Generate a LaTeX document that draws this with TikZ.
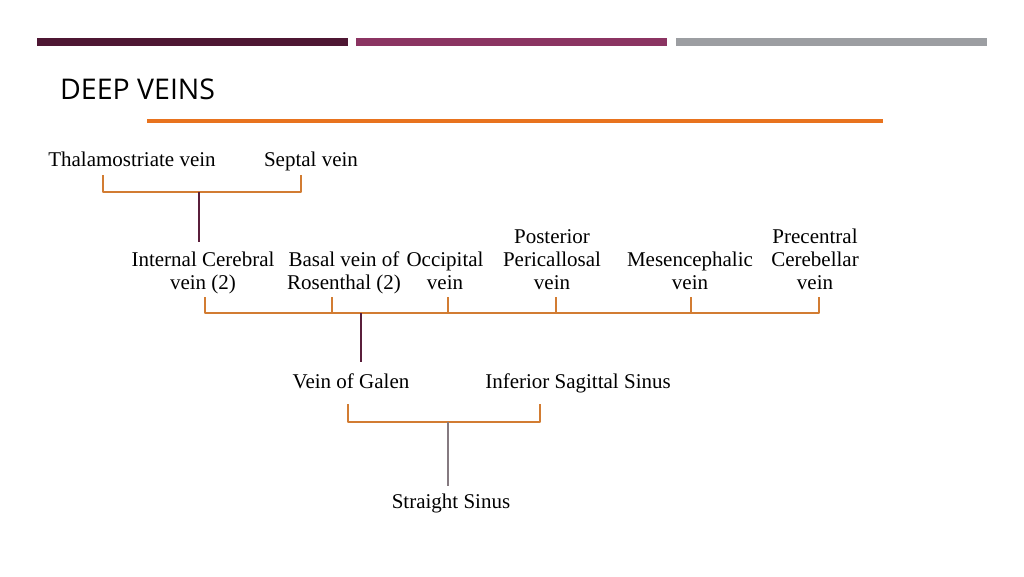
\documentclass[tikz,border=0pt]{standalone}
\usepackage{fontspec}
\setmainfont{Liberation Serif}
\newfontfamily\titlefont{Open Sans}
\usepackage{xcolor}
\usetikzlibrary{arrows.meta}
\definecolor{barone}{HTML}{4E1733}
\definecolor{bartwo}{HTML}{8B3462}
\definecolor{barthree}{HTML}{9C9EA2}
\definecolor{ruleorange}{HTML}{E8731E}
\definecolor{brackorange}{HTML}{D27C32}
\definecolor{stemplum}{HTML}{5A1E3B}
\definecolor{stemgray}{HTML}{857A80}
\tikzset{
  every picture/.style={line join=round, line cap=butt, >=Stealth},
  vein/.style={font=\fontsize{21}{23}\selectfont, align=center, inner sep=0pt, anchor=base},
  bracket/.style={draw=brackorange, line width=1.2pt},
  stem/.style={draw=stemplum, line width=1.3pt},
}

\begin{document}
\begin{tikzpicture}[x=1pt,y=-1pt]
\useasboundingbox[fill=white](0,0) rectangle (1024,576);
% header bars
\fill[barone](37,38) rectangle (348,46);
\fill[bartwo](356,38) rectangle (667,46);
\fill[barthree](676,38) rectangle (987,46);
\node[anchor=base west,inner sep=0pt,font=\titlefont\fontsize{28.5}{30}\selectfont](title) at (60,99){DEEP VEINS};
\fill[ruleorange](147,119) rectangle (883,123);

% top row
\node[vein](thal) at (132,166){Thalamostriate vein};
\node[vein](septal) at (311,166){Septal vein};
% middle row (base = last line)
\node[vein](icv) at (203,289){Internal Cerebral\\vein (2)};
\node[vein](basal) at (344,289){Basal vein of\\Rosenthal (2)};
\node[vein](occ) at (445,289){Occipital\\vein};
\node[vein](post) at (552,289){Posterior\\Pericallosal\\vein};
\node[vein](mes) at (690,289){Mesencephalic\\vein};
\node[vein](prec) at (815,289){Precentral\\Cerebellar\\vein};
% bottom rows
\node[vein](galen) at (351,388){Vein of Galen};
\node[vein](iss) at (578,388){Inferior Sagittal Sinus};
\node[vein](straight) at (451,508){Straight Sinus};

% bracket one
\coordinate(thaltick) at (103,175);
\coordinate(septaltick) at (301,175);
\coordinate(joinA) at (199,192);
\draw[bracket](thaltick)|-(joinA)-|(septaltick);
\draw[stem,shorten >=9pt](joinA)--(joinA|-icv.north);

% bracket two
\coordinate(joinB) at (361,313);
\draw[bracket](205,297)|-(joinB)-|(819,297);
\foreach \x in {332,448,556,691}
  \draw[bracket](\x,297)--(\x,313);
\draw[stem,shorten >=11pt](joinB)--(joinB|-galen.north);

% bracket three
\coordinate(galentick) at (348,404);
\coordinate(isstick) at (540,404);
\coordinate(joinC) at (448,422);
\draw[bracket](galentick)|-(joinC)-|(isstick);
\draw[stem,draw=stemgray,shorten >=7pt](joinC)--(joinC|-straight.north);
\end{tikzpicture}
\end{document}
